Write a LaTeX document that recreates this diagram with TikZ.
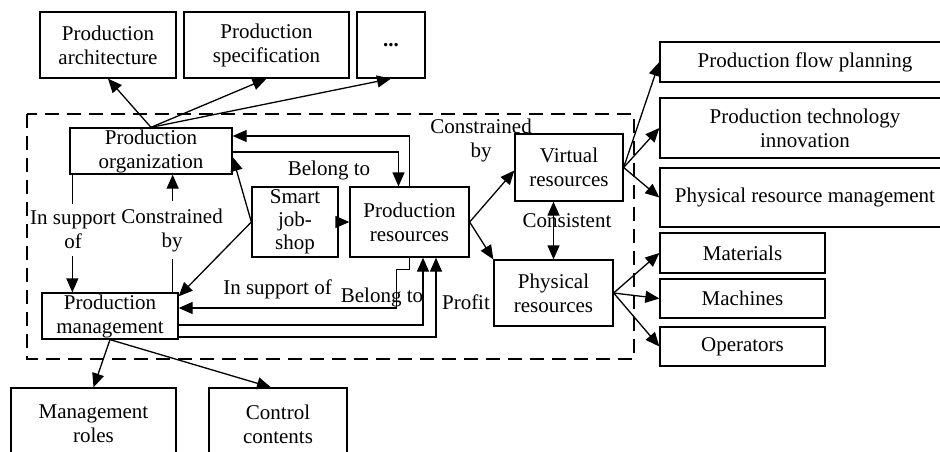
\documentclass[tikz,border=0pt]{standalone}
\usepackage{fontspec}
\setmainfont{Liberation Serif}
\usetikzlibrary{arrows.meta}
\begin{document}
\begin{tikzpicture}[x=1pt,y=-1pt,
  bx/.style={draw, line width=1.3pt, inner sep=0pt, minimum width=#1},
  lbl/.style={align=center, font=\fontsize{21}{24}\selectfont, inner sep=0pt},
  free/.style={align=center, font=\fontsize{21}{24}\selectfont, inner sep=1pt},
  ln/.style={line width=1.3pt},
  arr/.style={ln, -{Triangle[length=14pt,width=12pt]}},
  darr/.style={ln, {Triangle[length=14pt,width=12pt]}-{Triangle[length=14pt,width=12pt]}},
  frame/.style={line width=1.2pt, dash pattern=on 14pt off 8pt},
]
\useasboundingbox (0,0) rectangle (940,452);

% dashed frame
\draw[frame] (27,114) rectangle (634,359);

% boxes
\node[bx=136, minimum height=66, label={[lbl]center:Production\\architecture}] (arch) at (108,45) {};
\node[bx=165, minimum height=66, label={[lbl]center:Production\\specification}] (spec) at (266.5,45) {};
\node[bx=68, minimum height=66, label={[lbl]center:\textbf{...}}] (dots) at (391,45) {};
\node[bx=162, minimum height=46, label={[lbl]center:Production\\organization}] (org) at (151,151) {};
\node[bx=136, minimum height=46, label={[lbl]center:Production\\management}] (mgmt) at (110,316) {};
\node[bx=86, minimum height=70, label={[lbl, font=\fontsize{21}{23}\selectfont]center:Smart\\job-\\shop}] (smart) at (295,222) {};
\node[bx=119, minimum height=70, label={[lbl]center:Production\\resources}] (res) at (409.5,222) {};
\node[bx=108, minimum height=67, label={[lbl]center:Virtual\\resources}] (virt) at (569,167.5) {};
\node[bx=119, minimum height=66, label={[lbl]center:Physical\\resources}] (phys) at (553.5,293) {};
\node[bx=290, minimum height=40, label={[lbl]center:Production flow planning}] (flow) at (805,62) {};
\node[bx=290, minimum height=60, label={[lbl]center:Production technology\\innovation}] (tech) at (805,128) {};
\node[bx=290, minimum height=59, label={[lbl]center:Physical resource management}] (prm) at (805,197.5) {};
\node[bx=165, minimum height=40, label={[lbl]center:Materials}] (mat) at (742.5,253) {};
\node[bx=165, minimum height=39, label={[lbl]center:Machines}] (mach) at (742.5,298.5) {};
\node[bx=165, minimum height=39, label={[lbl]center:Operators}] (oper) at (742.5,346.5) {};
\node[bx=165, minimum height=72, label={[lbl]center:Management\\roles}] (roles) at (93.5,424) {};
\node[bx=138, minimum height=72, label={[lbl]center:Control\\contents}] (ctrl) at (278,424) {};

% free labels
\node[free] (lb1) at (329,170) {Belong to};
\node[free, inner ysep=7pt] (isup) at (73,230) {In support\\of};
\node[free, inner ysep=7pt] (cby) at (172,230) {Constrained\\by};
\node[free] (lb2) at (277.5,289) {In support of};
\node[free] (lb3) at (382,297) {Belong to};
\node[free] (lb4) at (466,302) {Profit};
\node[free] (lb5) at (481,140) {Constrained\\by};
\node[free] (lb6) at (567,221) {Consistent};

% connectors
\draw[arr] (org.north) -- (arch.south);
\draw[arr] (org.north) -- (spec.south);
\draw[arr] (org.north) -- (dots.south);
\draw[arr] (res.north) |- ([yshift=15pt]org.east);
\draw[arr] ([yshift=-1pt]org.east) -| ([xshift=-11pt]res.north);
\draw[arr] (smart.west) -- ([yshift=-6pt]org.east);
\draw[arr] (smart.west) -- ([yshift=-4pt]mgmt.north east);
\draw[arr] (smart.east) -- (res.west);
\coordinate (p) at ([xshift=3pt]org.south west);
\draw[ln] (p) -- (p |- isup.north);
\draw[arr] (p |- isup.south) -- (p |- mgmt.north);
\coordinate (q) at ([xshift=-6pt]mgmt.north east);
\draw[ln] (q) -- (q |- cby.south);
\draw[arr] (q |- cby.north) -- (q |- org.south);
\draw[arr] (res.south) -- ++(0,12) -- ++(-13,0) |- ([yshift=8pt]mgmt.east);
\draw[arr] ([yshift=-9pt]mgmt.east) -| ([xshift=13.5pt]res.south);
\draw[arr] ([yshift=-21pt]mgmt.east) -| ([xshift=26.5pt]res.south);
\draw[arr] (res.east) -- ([yshift=-3pt]virt.west);
\draw[arr] (res.east) -- (phys.north west);
\draw[darr] (phys.north) -- (phys.north |- virt.south);
\draw[arr] (virt.east) -- (flow.west);
\draw[arr] (virt.east) -- (tech.west);
\draw[arr] (virt.east) -- (prm.west);
\draw[arr] (phys.east) -- (mat.west);
\draw[arr] (phys.east) -- (mach.west);
\draw[arr] (phys.east) -- (oper.west);
\draw[arr] (mgmt.south) -- (roles.north);
\draw[arr] (mgmt.south) -- ([xshift=-7pt]ctrl.north);
\end{tikzpicture}
\end{document}
